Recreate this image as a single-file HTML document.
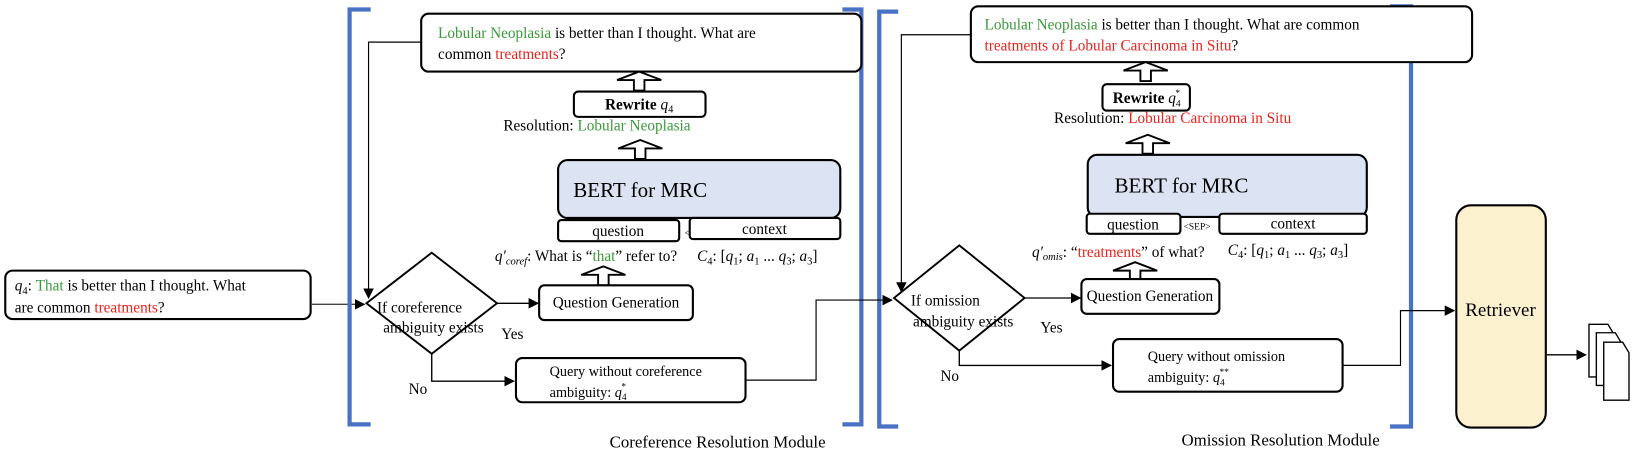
<!DOCTYPE html>
<html><head><meta charset="utf-8"><style>
html,body{margin:0;padding:0;background:#fff;}
svg{display:block;font-family:"Liberation Serif",serif;}
.g{fill:#3a9a3a}.r{fill:#e8231c}
</style></head><body>
<svg width="1651" height="450" viewBox="0 0 1651 450" xmlns="http://www.w3.org/2000/svg">
<defs>
<marker id="a" markerWidth="10" markerHeight="10" refX="9" refY="5" orient="auto" markerUnits="userSpaceOnUse"><path d="M0,0 L10,5 L0,10z" fill="#000"/></marker>
<g id="ha"><path d="M-5,18 L-5,8 L-21,8 L0,0 L21,8 L5,8 L5,18z" fill="#fff" stroke="#000" stroke-width="1.8"/></g>
</defs>
<g font-size="14.5" transform="scale(1.053)">
<!-- left input -->
<rect x="5" y="257" width="290" height="46" rx="7" fill="#fff" stroke="#000" stroke-width="2"/>
<text x="14" y="276"><tspan font-style="italic">q</tspan><tspan font-size="10" dy="3">4</tspan><tspan dy="-3">: </tspan><tspan class="g">That</tspan> is better than I thought. What</text>
<text x="14" y="297">are common <tspan class="r">treatments</tspan>?</text>
<line x1="295" y1="289" x2="346" y2="289" stroke="#444" stroke-width="1.3" marker-end="url(#a)"/>

<!-- brackets -->
<path d="M352,9 L332,9 L332,403 L352,403" fill="none" stroke="#4a72c4" stroke-width="4"/>
<path d="M800,9 L818,9 L818,403 L800,403" fill="none" stroke="#4a72c4" stroke-width="4"/>
<path d="M853,11 L835,11 L835,405 L853,405" fill="none" stroke="#4a72c4" stroke-width="4"/>
<path d="M1320,6 L1340,6 L1340,405 L1320,405" fill="none" stroke="#4a72c4" stroke-width="4"/>

<!-- module 1 -->
<rect x="400" y="13" width="418" height="55" rx="7" fill="#fff" stroke="#000" stroke-width="2"/>
<text x="416" y="36"><tspan class="g">Lobular Neoplasia</tspan> is better than I thought. What are</text>
<text x="416" y="56">common <tspan class="r">treatments</tspan>?</text>
<use href="#ha" x="607" y="68"/>
<rect x="545" y="87" width="125" height="24" rx="4" fill="#fff" stroke="#000" stroke-width="2"/>
<text x="607" y="104" text-anchor="middle" font-weight="bold">Rewrite <tspan font-style="italic" font-weight="normal">q</tspan><tspan font-size="10" dy="3" font-weight="normal">4</tspan></text>
<text x="478" y="124">Resolution: <tspan class="g">Lobular Neoplasia</tspan></text>
<use href="#ha" x="608" y="133"/>
<rect x="530" y="152" width="268" height="55" rx="9" fill="#dce3f2" stroke="#000" stroke-width="2"/>
<text x="608" y="187" text-anchor="middle" font-size="20">BERT for MRC</text>
<rect x="530" y="209" width="115" height="20" rx="3" fill="#fff" stroke="#000" stroke-width="2"/>
<text x="587" y="224" text-anchor="middle">question</text>
<text x="650" y="224" font-size="9">&lt;SEP&gt;</text>
<rect x="655" y="207" width="143" height="20" rx="3" fill="#fff" stroke="#000" stroke-width="2"/>
<text x="726" y="222" text-anchor="middle">context</text>
<text x="470" y="248"><tspan font-style="italic">q′</tspan><tspan font-size="10" dy="3" font-style="italic">coref</tspan><tspan dy="-3">: What is “</tspan><tspan class="g">that</tspan>” refer to?</text>
<text x="662" y="248" font-style="italic">C<tspan font-size="10" dy="3" font-style="normal">4</tspan><tspan dy="-3" font-style="normal">: [</tspan>q<tspan font-size="10" dy="3" font-style="normal">1</tspan><tspan dy="-3" font-style="normal">; </tspan>a<tspan font-size="10" dy="3" font-style="normal">1</tspan><tspan dy="-3" font-style="normal"> ... </tspan>q<tspan font-size="10" dy="3" font-style="normal">3</tspan><tspan dy="-3" font-style="normal">; </tspan>a<tspan font-size="10" dy="3" font-style="normal">3</tspan><tspan dy="-3" font-style="normal">]</tspan></text>
<use href="#ha" x="573" y="253"/>
<rect x="512" y="271" width="146" height="33" rx="5" fill="#fff" stroke="#000" stroke-width="2"/>
<text x="585" y="292" text-anchor="middle">Question Generation</text>
<path d="M410,240 L472,288 L410,336 L348,288z" fill="#fff" stroke="#000" stroke-width="1.8"/>
<text x="358" y="297">If coreference</text>
<text x="364" y="316">ambiguity exists</text>
<line x1="472" y1="288" x2="511" y2="288" stroke="#000" stroke-width="1.3" marker-end="url(#a)"/>
<text x="476" y="322">Yes</text>
<text x="388" y="374">No</text>
<polyline points="410,336 410,362 488,362" fill="none" stroke="#000" stroke-width="1.3" marker-end="url(#a)"/>
<rect x="490" y="340" width="218" height="42" rx="6" fill="#fff" stroke="#000" stroke-width="2"/>
<text x="522" y="357" font-size="13.5">Query without coreference</text>
<text x="522" y="377" font-size="13.5">ambiguity: <tspan font-style="italic">q</tspan><tspan font-size="9" dy="3">4</tspan><tspan font-size="9" dy="-10" dx="-5">*</tspan></text>
<polyline points="400,40 350,40 350,283" fill="none" stroke="#000" stroke-width="1.1" marker-end="url(#a)"/>
<polyline points="708,361 775,361 775,285 847,285" fill="none" stroke="#000" stroke-width="1.1" marker-end="url(#a)"/>
<text x="579" y="425" font-size="16">Coreference Resolution Module</text>

<!-- module 2 -->
<rect x="922" y="6" width="476" height="53" rx="7" fill="#fff" stroke="#000" stroke-width="2"/>
<text x="935" y="28"><tspan class="g">Lobular Neoplasia</tspan> is better than I thought. What are common</text>
<text x="935" y="48"><tspan class="r">treatments of Lobular Carcinoma in Situ</tspan>?</text>
<use href="#ha" x="1088" y="59"/>
<rect x="1047" y="80" width="83" height="25" rx="4" fill="#fff" stroke="#000" stroke-width="2"/>
<text x="1089" y="98" text-anchor="middle" font-weight="bold">Rewrite <tspan font-style="italic" font-weight="normal">q</tspan><tspan font-size="9" dy="3" font-weight="normal">4</tspan><tspan font-size="9" dy="-10" dx="-5" font-weight="normal">*</tspan></text>
<text x="1001" y="117">Resolution: <tspan class="r">Lobular Carcinoma in Situ</tspan></text>
<use href="#ha" x="1090" y="128"/>
<rect x="1033" y="147" width="265" height="59" rx="9" fill="#dce3f2" stroke="#000" stroke-width="2"/>
<text x="1122" y="183" text-anchor="middle" font-size="20">BERT for MRC</text>
<rect x="1032" y="203" width="89" height="19" rx="3" fill="#fff" stroke="#000" stroke-width="2"/>
<text x="1076" y="218" text-anchor="middle">question</text>
<text x="1124" y="218" font-size="9">&lt;SEP&gt;</text>
<rect x="1158" y="203" width="140" height="19" rx="3" fill="#fff" stroke="#000" stroke-width="2"/>
<text x="1228" y="217" text-anchor="middle">context</text>
<text x="980" y="244"><tspan font-style="italic">q′</tspan><tspan font-size="10" dy="3" font-style="italic">omis</tspan><tspan dy="-3">: “</tspan><tspan class="r">treatments</tspan>” of what?</text>
<text x="1166" y="242" font-style="italic">C<tspan font-size="10" dy="3" font-style="normal">4</tspan><tspan dy="-3" font-style="normal">: [</tspan>q<tspan font-size="10" dy="3" font-style="normal">1</tspan><tspan dy="-3" font-style="normal">; </tspan>a<tspan font-size="10" dy="3" font-style="normal">1</tspan><tspan dy="-3" font-style="normal"> ... </tspan>q<tspan font-size="10" dy="3" font-style="normal">3</tspan><tspan dy="-3" font-style="normal">; </tspan>a<tspan font-size="10" dy="3" font-style="normal">3</tspan><tspan dy="-3" font-style="normal">]</tspan></text>
<use href="#ha" x="1078" y="249"/>
<rect x="1027" y="265" width="131" height="33" rx="5" fill="#fff" stroke="#000" stroke-width="2"/>
<text x="1092" y="286" text-anchor="middle">Question Generation</text>
<path d="M911,233 L973,283 L911,333 L849,283z" fill="#fff" stroke="#000" stroke-width="1.8"/>
<text x="865" y="290">If omission</text>
<text x="867" y="310">ambiguity exists</text>
<line x1="973" y1="283" x2="1026" y2="283" stroke="#000" stroke-width="1.3" marker-end="url(#a)"/>
<text x="988" y="316">Yes</text>
<text x="893" y="362">No</text>
<polyline points="911,333 911,347 1055,347" fill="none" stroke="#000" stroke-width="1.3" marker-end="url(#a)"/>
<rect x="1057" y="322" width="218" height="50" rx="6" fill="#fff" stroke="#000" stroke-width="2"/>
<text x="1090" y="343" font-size="13.5">Query without omission</text>
<text x="1090" y="363" font-size="13.5">ambiguity: <tspan font-style="italic">q</tspan><tspan font-size="9" dy="3">4</tspan><tspan font-size="9" dy="-10" dx="-5">**</tspan></text>
<polyline points="922,33 856,33 856,277" fill="none" stroke="#000" stroke-width="1.1" marker-end="url(#a)"/>
<polyline points="1275,347 1330,347 1330,295 1381,295" fill="none" stroke="#000" stroke-width="1.1" marker-end="url(#a)"/>
<text x="1122" y="423" font-size="16">Omission Resolution Module</text>

<!-- retriever -->
<rect x="1383" y="195" width="85" height="211" rx="14" fill="#fcf1cf" stroke="#000" stroke-width="2"/>
<text x="1425" y="300" text-anchor="middle" font-size="18">Retriever</text>
<line x1="1469" y1="337" x2="1506" y2="337" stroke="#000" stroke-width="1.3" marker-end="url(#a)"/>
<g fill="#fff" stroke="#000" stroke-width="1.3">
<path d="M1509,308 L1527,308 L1533,318 L1533,358 L1509,358z"/>
<path d="M1516,316 L1534,316 L1540,326 L1540,366 L1516,366z"/>
<path d="M1523,325 L1541,325 L1547,335 L1547,380 L1523,380z"/>
</g>
</g>
</svg>
</body></html>
